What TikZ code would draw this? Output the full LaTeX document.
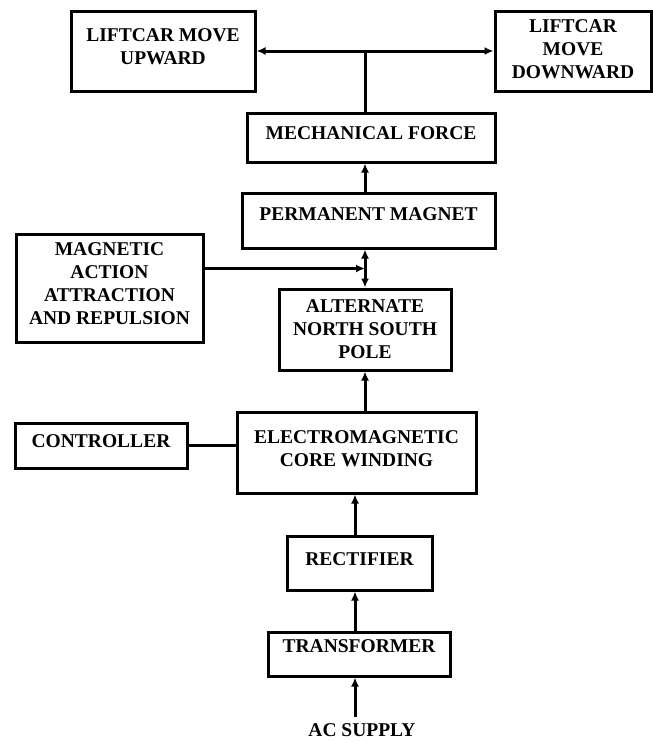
\documentclass[tikz,border=0pt]{standalone}
\usepackage{fontspec}
\setmainfont{Liberation Serif}
\usetikzlibrary{arrows.meta,calc}
\tikzset{blk/.style={draw,line width=3pt,align=center,inner sep=2pt,
    font=\bfseries\fontsize{19.5}{23}\selectfont},
  con/.style={line width=3pt},
  arr/.style={con,-{Latex[length=9pt,width=8pt]}},
  darr/.style={con,{Latex[length=9pt,width=8pt]}-{Latex[length=9pt,width=8pt]}}}

\begin{document}
\begin{tikzpicture}[x=1pt,y=-1pt]
    \useasboundingbox (0,0) rectangle (653,742);
    \foreach \n/\x/\y/\w/\h/\d/\t in {
      up/163/51/184/80/8/LIFTCAR MOVE\\UPWARD,
      down/573/51/156/80/4/LIFTCAR\\MOVE\\DOWNWARD,
      mech/371/137.5/248/49/9/MECHANICAL FORCE,
      perm/368.5/220.5/253/55/13/PERMANENT MAGNET,
      magn/109.5/288/187/108/9/MAGNETIC\\ACTION\\ATTRACTION\\AND REPULSION,
      alt/365/329.5/172/81/0/ALTERNATE\\NORTH SOUTH\\POLE,
      ctrl/101/445.5/172/45/9/CONTROLLER,
      elec/356.5/452.5/239/81/8/ELECTROMAGNETIC\\CORE WINDING,
      rect/359.5/563/145/54/8/RECTIFIER,
      trans/359/654/182/44/16/TRANSFORMER}
    {
      \node[blk,minimum width=\w pt,minimum height=\h pt,text depth=\d pt] (\n) at (\x,\y) {\t};
    }
    \node[font=\bfseries\fontsize{19.5}{23}\selectfont,inner ysep=6pt] (ac) at (362,730) {AC SUPPLY};
    % upper part of the chain
    \draw[darr] (up.east) -- (down.west);
    \draw[con] (mech.north -| alt.north) -- (alt.north |- up.east);
    \draw[arr] (perm.north -| alt.north) -- (mech.south -| alt.north);
    \draw[darr] (alt.north) -- (alt.north |- perm.south);
    \coordinate (mj) at ($(alt.north |- perm.south)!0.5!(alt.north)$);
    \draw[arr] (magn.east |- mj) -- (mj);
    \draw[arr] (elec.north -| alt.south) -- (alt.south);
    \draw[con] (ctrl.east) -- (ctrl.east -| elec.west);
    % lower part of the chain
    \coordinate (lo) at (355,600);
    \draw[arr] (rect.north -| lo) -- (elec.south -| lo);
    \draw[arr] (trans.north -| lo) -- (rect.south -| lo);
    \draw[arr] (ac.north -| lo) -- (trans.south -| lo);
\end{tikzpicture}
\end{document}
